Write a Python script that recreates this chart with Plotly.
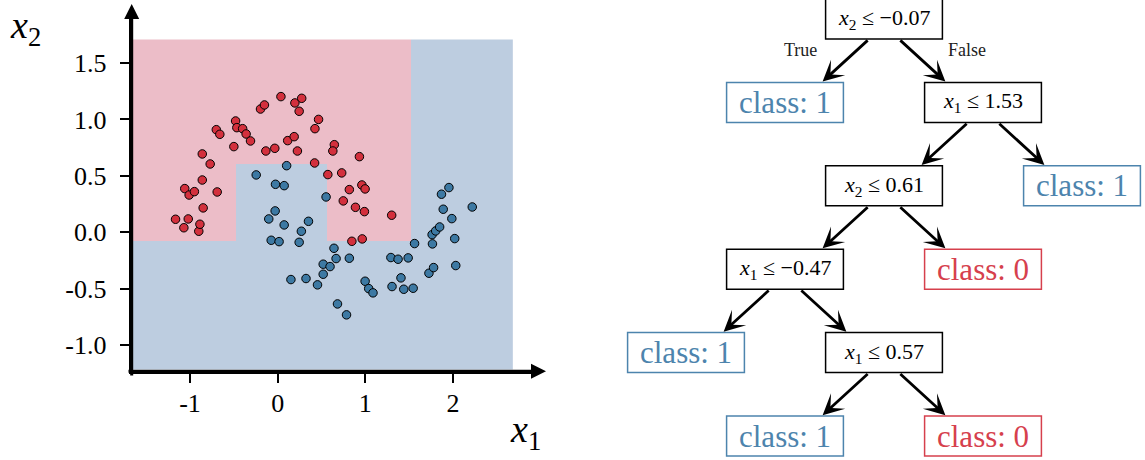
import numpy as np
import plotly.graph_objects as go

# ---------------- data: two-moons sample ----------------
red_x1 = [-1.165, -1.07, -1.02, -0.90, -0.887, -0.85, -1.06, -1.01, -0.95, -0.69,
          -0.86, -0.77, -0.86, -0.70, -0.66, -0.50, -0.48, -0.466, -0.40, -0.36,
          -0.31, -0.135, -0.033, -0.196, -0.151, 0.037, 0.196, 0.274, 0.245, 0.114,
          0.188, 0.225, 0.466, 0.425, 0.421, 0.646, 0.629, 0.572, 0.73, 0.932,
          0.96, 0.997, 0.817, 0.748, 0.887, 0.989, 1.30, 0.846, 0.964]
red_x2 = [0.115, 0.04, 0.118, 0.009, 0.071, 0.216, 0.387, 0.33, 0.36, 0.357,
          0.463, 0.605, 0.694, 0.909, 0.868, 0.759, 0.986, 0.927, 0.918, 0.871,
          0.809, 0.72, 0.744, 1.092, 1.128, 1.202, 1.146, 1.187, 1.072, 0.812,
          0.847, 0.72, 1.0, 0.918, 0.614, 0.776, 0.72, 0.511, 0.526, 0.67,
          0.419, 0.384, 0.378, 0.278, 0.221, 0.183, 0.151, -0.08, -0.059]
blue_x1 = [-0.245, 0.102, -0.025, 0.074, 0.552, -0.029, -0.102, 0.074, 0.351, 0.27,
           -0.074, 0.016, 0.245, 0.642, 0.666, 0.817, 0.519, 0.597, 0.519, 0.151,
           0.323, 0.454, 0.682, 0.785, 0.997, 1.038, 1.087, 1.291, 1.373, 1.488,
           1.561, 1.304, 1.406, 1.438, 1.545, 1.725, 1.778, 1.765, 1.761, 1.802,
           1.847, 1.888, 1.868, 1.953, 1.986, 2.019, 2.031, 2.219]
blue_x2 = [0.508, 0.59, 0.425, 0.413, 0.313, 0.189, 0.118, 0.065, 0.097, 0.009,
           -0.071, -0.083, -0.089, -0.142, -0.233, -0.23, -0.283, -0.304, -0.372, -0.419,
           -0.41, -0.466, -0.635, -0.732, -0.434, -0.499, -0.537, -0.224, -0.239, -0.227,
           -0.10, -0.481, -0.404, -0.505, -0.496, -0.363, -0.313, -0.103, -0.021, 0.012,
           0.047, 0.204, 0.337, 0.396, 0.121, -0.056, -0.295, 0.224]

x_tick_vals = [-1, 0, 1, 2]
x_tick_text = ["-1", "0", "1", "2"]
y_tick_vals = [-1.0, -0.5, 0.0, 0.5, 1.0, 1.5]
y_tick_text = ["-1.0", "-0.5", "0.0", "0.5", "1.0", "1.5"]

# ---------------- decision tree ----------------
node_feature = [2, None, 1, 2, None, 1, None, None, 1, None, None]
node_threshold = [-0.07, None, 1.53, 0.61, None, -0.47, None, None, 0.57, None, None]
node_left = [1, -1, 3, 5, -1, 7, -1, -1, 9, -1, -1]
node_right = [2, -1, 4, 6, -1, 8, -1, -1, 10, -1, -1]
leaf_class_shown = [None, 1, None, None, 1, None, 0, 1, None, 1, 0]
leaf_class_region = [None, 1, None, None, 1, None, 0, 0, None, 1, 0]
edge_labels = ["True", "False"]

# colours
PINK, LBLUE = "#ecbdc8", "#bdcde0"
RED_PT, BLUE_PT = "#d3303d", "#3d79a3"
CLS_COL = {0: "#d6404d", 1: "#4d84ad"}
SERIF = "Liberation Serif"


def predict(a, b):
    n = 0
    while node_left[n] != -1:
        v = a if node_feature[n] == 1 else b
        n = node_left[n] if v <= node_threshold[n] else node_right[n]
    return leaf_class_region[n]


all_x1 = red_x1 + blue_x1
all_x2 = red_x2 + blue_x2
xmin, xmax = min(all_x1) - 0.5, max(all_x1) + 0.5
ymin, ymax = min(all_x2) - 0.5, max(all_x2) + 0.5
gx = np.arange(xmin, xmax - 0.04, 0.02)
gy = np.arange(ymin + 0.03, ymax, 0.02)
Z = np.array([[predict(a, b) for a in gx] for b in gy])

fig = go.Figure()
fig.add_trace(go.Heatmap(x=gx, y=gy, z=Z, zmin=0, zmax=1,
                         colorscale=[[0, PINK], [1, LBLUE]], showscale=False,
                         hoverinfo="skip", xaxis="x", yaxis="y"))
fig.add_trace(go.Scatter(x=red_x1, y=red_x2, mode="markers",
                         marker=dict(size=8.5, color=RED_PT, line=dict(color="black", width=1)),
                         showlegend=False, xaxis="x", yaxis="y"))
fig.add_trace(go.Scatter(x=blue_x1, y=blue_x2, mode="markers",
                         marker=dict(size=8.5, color=BLUE_PT, line=dict(color="black", width=1)),
                         showlegend=False, xaxis="x", yaxis="y"))

x_axis_end = 2.946
y_axis_end = 1.934
W, H = 1145.0, 460.0

annotations = []
shapes = []

# axis lines with arrowheads
annotations.append(dict(x=546 / W, y=1 - 371.3 / H, xref="paper", yref="paper",
                        ax=-419, ay=0, axref="pixel", ayref="pixel",
                        text="", showarrow=True, arrowhead=2, arrowwidth=3, arrowsize=1.0,
                        arrowcolor="black"))
annotations.append(dict(x=131.7 / W, y=1 - 4 / H, xref="paper", yref="paper",
                        ax=0, ay=373, axref="pixel", ayref="pixel",
                        text="", showarrow=True, arrowhead=2, arrowwidth=3, arrowsize=1.0,
                        arrowcolor="black"))
annotations.append(dict(x=8 / W, y=1 - 2 / H, xref="paper", yref="paper",
                        xanchor="left", yanchor="top",
                        text="<i>x</i><sub>2</sub>", showarrow=False,
                        font=dict(family=SERIF, size=38, color="black")))
annotations.append(dict(x=508 / W, y=1 - 458 / H, xref="paper", yref="paper",
                        xanchor="left", yanchor="bottom",
                        text="<i>x</i><sub>1</sub>", showarrow=False,
                        font=dict(family=SERIF, size=38, color="black")))

# ---------------- tree layout ----------------
depth = [0] * len(node_left)
upos = [0.0] * len(node_left)
stack = [0]
while stack:
    n = stack.pop()
    if node_left[n] != -1:
        for c, s in ((node_left[n], -1), (node_right[n], 1)):
            depth[c] = depth[n] + 1
            upos[c] = upos[n] + s
            stack.append(c)

HW, HH = 0.59, 0.24
for n in range(len(node_left)):
    u, d = upos[n], depth[n]
    if node_left[n] != -1:
        txt = "<i>x</i><sub>%d</sub> ≤ %s" % (node_feature[n], ("%.2f" % node_threshold[n]).replace("-", "−"))
        col, size = "black", 22
    else:
        txt = "class: %d" % leaf_class_shown[n]
        col, size = CLS_COL[leaf_class_shown[n]], 31
    shapes.append(dict(type="rect", xref="x2", yref="y2", x0=u - HW, x1=u + HW,
                       y0=d - HH, y1=d + HH, line=dict(color=col, width=1.5),
                       fillcolor="white"))
    annotations.append(dict(x=u, y=d, xref="x2", yref="y2", text=txt, showarrow=False,
                            font=dict(family=SERIF, size=size, color=col)))
    if node_left[n] != -1:
        for c, s in ((node_left[n], -1), (node_right[n], 1)):
            annotations.append(dict(x=upos[c] - s * 0.38, y=depth[c] - 0.25,
                                    ax=u + s * 0.15, ay=d + HH,
                                    xref="x2", yref="y2", axref="x2", ayref="y2",
                                    text="", showarrow=True, arrowhead=3, arrowwidth=2.8,
                                    arrowsize=1.25, arrowcolor="black"))
        if n == 0:
            for lab, s in zip(edge_labels, (-1, 1)):
                annotations.append(dict(x=s * 0.84, y=0.37, xref="x2", yref="y2", text=lab,
                                        showarrow=False,
                                        font=dict(family=SERIF, size=18, color="#222")))

fig.update_layout(
    width=1145, height=460, margin=dict(l=0, r=0, t=0, b=0),
    paper_bgcolor="white", plot_bgcolor="white",
    xaxis=dict(domain=[131.7 / W, 536 / W], range=[xmin, x_axis_end],
               showgrid=False, zeroline=False, showline=True, linewidth=3, linecolor="black",
               ticks="outside", ticklen=9, tickwidth=2, tickcolor="black",
               tickvals=x_tick_vals, ticktext=x_tick_text, ticklabelstandoff=-3,
               tickfont=dict(family=SERIF, size=26, color="black"), anchor="y"),
    yaxis=dict(domain=[1 - 371.3 / H, 1 - 14 / H], range=[ymin, y_axis_end],
               showgrid=False, zeroline=False, showline=True, linewidth=3, linecolor="black",
               ticks="outside", ticklen=9, tickwidth=2, tickcolor="black",
               tickvals=y_tick_vals, ticktext=y_tick_text, ticklabelstandoff=8,
               tickfont=dict(family=SERIF, size=26, color="black"), anchor="x"),
    xaxis2=dict(domain=[600 / W, 1], range=[(600 - 884) / 99, (1145 - 884) / 99],
                visible=False, anchor="y2"),
    yaxis2=dict(domain=[0, 1], range=[(460 - 19) / 83.4, (0 - 19) / 83.4],
                visible=False, anchor="x2"),
    shapes=shapes, annotations=annotations,
)

fig.write_html("out.html")
